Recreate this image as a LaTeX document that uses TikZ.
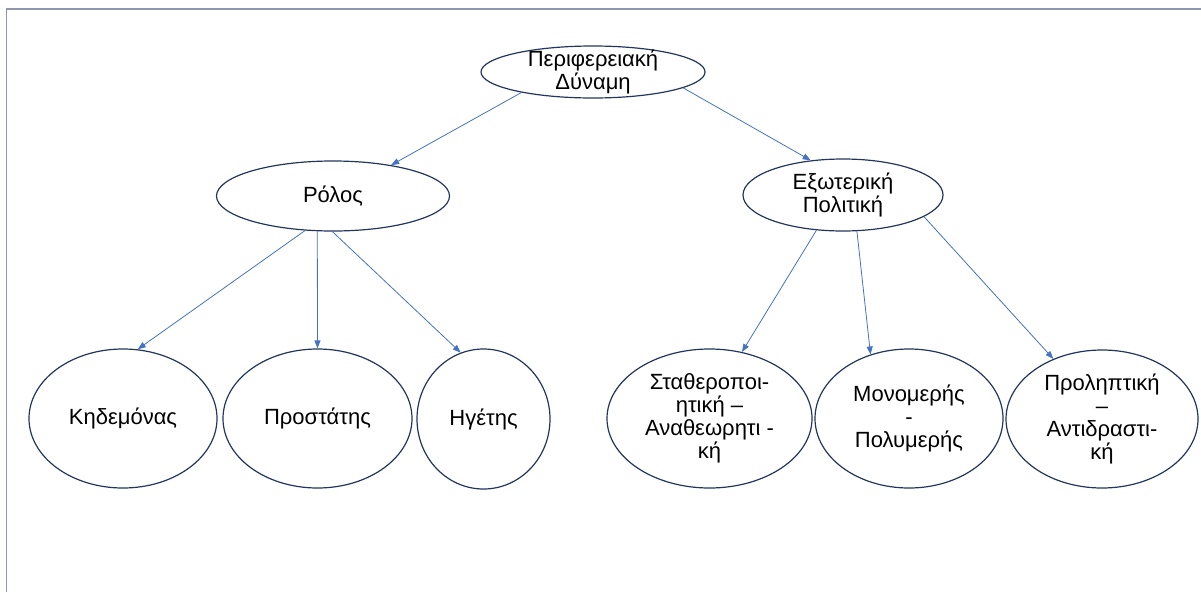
\documentclass[tikz,border=0pt]{standalone}
\usepackage{fontspec}
\setmainfont{Liberation Sans}
\usetikzlibrary{shapes.geometric,arrows.meta}
\definecolor{elln}{HTML}{22355E}
\definecolor{arr}{HTML}{4472C4}
\definecolor{framec}{HTML}{8E97A8}
\begin{document}
\begin{tikzpicture}[x=1pt,y=-1pt,
  ell/.style={ellipse,draw=elln,line width=1.2pt,inner sep=-300pt,align=center,
    font=\fontsize{22}{23}\selectfont},
  con/.style={draw=arr,line width=0.8pt,-{Triangle[length=8pt,width=6pt]}}]
\useasboundingbox (0,0) rectangle (1201,592);
\draw[framec,line width=1.5pt] (6.5,592) -- (6.5,9) -- (1201,9);

\node[ell,minimum width=224pt,minimum height=52pt] (top) at (593,72) {Περιφερειακή\\Δύναμη};
\node[ell,minimum width=233pt,minimum height=70pt] (rol) at (333,196) {Ρόλος};
\node[ell,minimum width=200pt,minimum height=72pt] (ext) at (843,195) {Εξωτερική\\Πολιτική};

\node[ell,minimum width=188pt,minimum height=139pt] (k1) at (123,418.5) {Κηδεμόνας};
\node[ell,minimum width=189pt,minimum height=139pt] (k2) at (317.5,418.5) {Προστάτης};
\node[ell,minimum width=133pt,minimum height=140pt] (k3) at (483.5,419) {Ηγέτης};

\node[ell,minimum width=205pt,minimum height=139pt] (e1) at (709.5,418.5) {Σταθεροποι-\\ητική –\\Αναθεωρητι -\\κή};
\node[ell,minimum width=188pt,minimum height=139pt] (e2) at (909,418.5) {Μονομερής\\-\\Πολυμερής};
\node[ell,minimum width=192pt,minimum height=138pt] (e3) at (1102,419) {Προληπτική\\–\\Αντιδραστι-\\κή};

\draw[con] (top.-164.7) -- (rol.28);
\draw[con] (top.-10) -- (ext.133.4);
\draw[con] (rol.-129.6) -- (k1.78);
\draw[con] (rol.-114.6) -- (k2.90);
\draw[con] (rol.-91.6) -- (k3.109.8);
\draw[con] (ext.-127) -- (e1.64.3);
\draw[con] (ext.-69.3) -- (e2.121);
\draw[con] (ext.-15.1) -- (e3.129.4);
\end{tikzpicture}
\end{document}
